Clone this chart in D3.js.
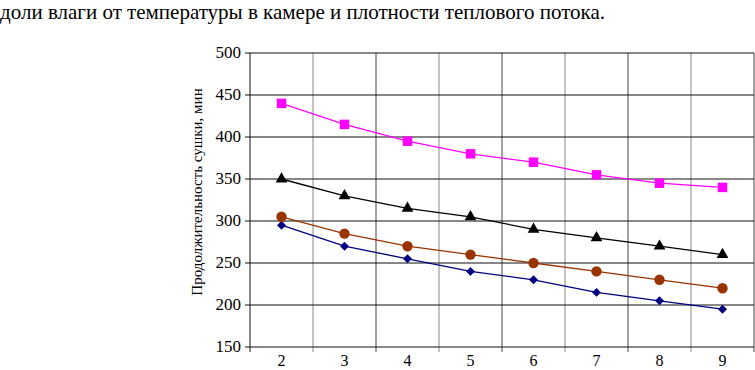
<!DOCTYPE html>
<html>
<head>
<meta charset="utf-8">
<script src="https://cdn.jsdelivr.net/npm/d3@7"></script>
<style>
  body { margin: 0; background: #fff; }
</style>
</head>
<body>
<div id="chart"></div>
<script>
// categories on the x axis
const cats = [2, 3, 4, 5, 6, 7, 8, 9];
// series (minutes)
const seriesPink = [440, 415, 395, 380, 370, 355, 345, 340];
const seriesBlack = [350, 330, 315, 305, 290, 280, 270, 260];
const seriesBrown = [305, 285, 270, 260, 250, 240, 230, 220];
const seriesNavy = [295, 270, 255, 240, 230, 215, 205, 195];
const yTicks = [150, 200, 250, 300, 350, 400, 450, 500];

const width = 755, height = 370;
const margin = { top: 53, right: 1, bottom: 23, left: 250 };
const serif = "'Liberation Serif', 'Times New Roman', Times, serif";

const svg = d3.select("#chart").append("svg")
  .attr("width", width)
  .attr("height", height)
  .style("font-family", serif);

// caption line at top (cut off in source)
svg.append("text")
  .attr("x", 0)
  .attr("y", 19)
  .style("font-family", serif)
  .style("font-size", "21px")
  .text("доли влаги от температуры в камере и плотности теплового потока.");

const x = d3.scaleBand()
  .domain(cats)
  .range([margin.left, width - margin.right]);

const y = d3.scaleLinear()
  .domain([150, 500])
  .range([height - margin.bottom, margin.top]);

// vertical grid at category boundaries
const bounds = cats.map(c => x(c)).concat([x(cats[cats.length - 1]) + x.bandwidth()]);
svg.append("g")
  .selectAll("line")
  .data(bounds.slice(1))
  .join("line")
  .attr("x1", d => d).attr("x2", d => d)
  .attr("y1", margin.top).attr("y2", height - margin.bottom + 5)
  .attr("stroke", (d, i) => i % 2 ? "#444" : "#888")
  .attr("stroke-width", 1);

// horizontal grid
svg.append("g")
  .selectAll("line")
  .data(yTicks)
  .join("line")
  .attr("x1", margin.left - 5).attr("x2", width - margin.right)
  .attr("y1", d => y(d)).attr("y2", d => y(d))
  .attr("stroke", "#111")
  .attr("stroke-width", 1);

// left axis line
svg.append("line")
  .attr("x1", margin.left).attr("x2", margin.left)
  .attr("y1", margin.top).attr("y2", height - margin.bottom + 5)
  .attr("stroke", "#111");

// y tick labels
svg.append("g")
  .selectAll("text")
  .data(yTicks)
  .join("text")
  .attr("x", margin.left - 9)
  .attr("y", d => y(d) + 5)
  .attr("text-anchor", "end")
  .style("font-family", serif)
  .style("font-size", "17px")
  .text(d => d);

// x tick labels
svg.append("g")
  .selectAll("text")
  .data(cats)
  .join("text")
  .attr("x", d => x(d) + x.bandwidth() / 2)
  .attr("y", height - 4)
  .attr("text-anchor", "middle")
  .style("font-family", serif)
  .style("font-size", "16px")
  .text(d => d);

// y axis title
svg.append("text")
  .attr("transform", "translate(202,192) rotate(-90)")
  .attr("text-anchor", "middle")
  .style("font-family", serif)
  .style("font-size", "15px")
  .text("Продолжительность сушки, мин");

const cx = c => x(c) + x.bandwidth() / 2;
const line = d3.line()
  .x((d, i) => cx(cats[i]))
  .y(d => y(d));

// rot: rotate marker (square -> diamond)
const series = [
  { values: seriesNavy, color: "#000080", symbol: d3.symbolSquare, size: 40, rot: 45 },
  { values: seriesBrown, color: "#993300", symbol: d3.symbolCircle, size: 85, rot: 0 },
  { values: seriesBlack, color: "#000000", symbol: d3.symbolTriangle, size: 60, rot: 0 },
  { values: seriesPink, color: "#ff00ff", symbol: d3.symbolSquare, size: 90, rot: 0 }
];

series.forEach(s => {
  const g = svg.append("g");
  g.append("path")
    .datum(s.values)
    .attr("fill", "none")
    .attr("stroke", s.color)
    .attr("stroke-width", 1.3)
    .attr("d", line);
  g.selectAll("path.m")
    .data(s.values)
    .join("path")
    .attr("class", "m")
    .attr("transform", (d, i) => `translate(${cx(cats[i])},${y(d)}) rotate(${s.rot})`)
    .attr("d", d3.symbol(s.symbol, s.size))
    .attr("fill", s.color);
});
</script>
</body>
</html>
